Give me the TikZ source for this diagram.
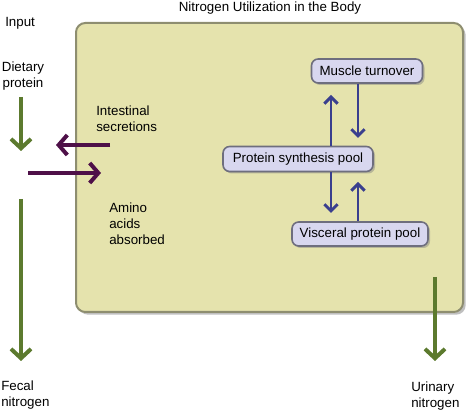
\documentclass[tikz,border=0pt]{standalone}
\usepackage{fontspec}
\setmainfont{Liberation Sans}
\usetikzlibrary{arrows.meta,shadows}
\definecolor{bodyfill}{HTML}{E5E3AD}
\definecolor{bodyline}{HTML}{8E8E70}
\definecolor{poolfill}{HTML}{D8D7EF}
\definecolor{poolline}{HTML}{6E6E7E}
\definecolor{grn}{HTML}{5C7A2E}
\definecolor{purp}{HTML}{4E1048}
\definecolor{navy}{HTML}{3A3F8E}
\begin{document}
\begin{tikzpicture}[x=0.75pt,y=-0.75pt,
  every node/.style={font=\fontsize{10}{12}\selectfont, inner sep=0pt},
  lbl/.style={align=left, anchor=north west},
  pool/.style={draw=poolline, line width=1.2pt, fill=poolfill, rounded corners=5pt,
    drop shadow={shadow xshift=1.5pt, shadow yshift=-1.5pt, opacity=0.45}},
  grnarrow/.style={draw=grn, line width=3pt, -{Straight Barb[length=7pt,width=15pt,line width=3pt]}},
  purparrow/.style={draw=purp, line width=3pt, -{Straight Barb[length=6.5pt,width=15pt,line width=3pt]}},
  bluearrow/.style={draw=navy, line width=2.2pt, -{Straight Barb[length=5pt,width=10pt,line width=2.2pt]}}]
\useasboundingbox (0,0) rectangle (476,413);
% body box
\path[fill=bodyfill, draw=bodyline, line width=1.5pt, rounded corners=7pt,
  drop shadow={shadow xshift=2pt, shadow yshift=-2pt, opacity=0.5}]
  (76,23) rectangle (463,312);
\node (title) at (270,8) {Nitrogen Utilization in the Body};
\node[anchor=west] (input) at (5,23) {Input};
\node[align=center] (diet) at (23,76) {Dietary\\protein};
\node[align=left, anchor=west] (fecal) at (1,395) {Fecal\\nitrogen};
\node[align=left, anchor=west] (urin) at (411,396) {Urinary\\nitrogen};
\node[lbl] (intest) at (96,106) {Intestinal\\secretions};
\node[lbl] (amino) at (109,203) {Amino\\acids\\absorbed};
% pools
\node[pool, minimum width=111pt*0.75, minimum height=24pt*0.75] (muscle) at (367,71) {Muscle turnover};
\node[pool, minimum width=150pt*0.75, minimum height=25pt*0.75] (synth) at (298,159) {Protein synthesis pool};
\node[pool, minimum width=136pt*0.75, minimum height=24pt*0.75] (visc) at (360,234) {Visceral protein pool};
% coordinates
\coordinate (g1a) at (21,97); \coordinate (g1b) at (21,151);
\coordinate (g2a) at (21,199); \coordinate (g2b) at (21,361);
\coordinate (g3a) at (435,277); \coordinate (g3b) at (435,361);
\coordinate (p1a) at (110,145); \coordinate (p1b) at (56,145);
\coordinate (p2a) at (28,173); \coordinate (p2b) at (101,173);
\draw[grnarrow] (g1a) -- (g1b);
\draw[grnarrow] (g2a) -- (g2b);
\draw[grnarrow] (g3a) -- (g3b);
\draw[purparrow] (p1a) -- (p1b);
\draw[purparrow] (p2a) -- (p2b);
% blue arrows
\coordinate (u1) at (331,95);
\coordinate (d1) at (358,138);
\coordinate (d2) at (331,213);
\coordinate (u2) at (358,182);
\draw[bluearrow] (synth.north -| u1) -- (u1);
\draw[bluearrow] (muscle.south -| d1) -- (d1);
\draw[bluearrow] (synth.south -| d2) -- (d2);
\draw[bluearrow] (visc.north -| u2) -- (u2);
\end{tikzpicture}
\end{document}
